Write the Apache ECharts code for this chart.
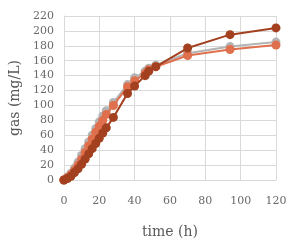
<!DOCTYPE html>
<html>
<head>
<meta charset="utf-8">
<script src="https://cdn.jsdelivr.net/npm/echarts@6/dist/echarts.min.js"></script>
<style>html,body{margin:0;padding:0;background:#fff;}#c{width:299px;height:244px;}</style>
</head>
<body>
<div id="c"></div>
<script>
var times = [0, 2, 4, 6, 8, 10, 12, 14, 16, 18, 20, 22, 24, 28, 36, 40, 46, 48, 52, 70, 94, 120];
var grayVals = [0, 4, 9, 16, 24, 33, 42, 51, 60, 69, 78, 86, 93, 104, 128, 137, 146, 150, 154, 170, 179, 185];
var orangeVals = [0, 3, 7, 13, 20, 28, 37, 46, 55, 64, 72, 80, 88, 100, 125, 133, 143, 148, 152, 167, 175, 181];
var darkVals = [0, 2, 5, 10, 15, 21, 28, 35, 42, 49, 56, 63, 70, 84, 116, 126, 140, 146, 152, 177, 195, 204];
var xTicks = [0, 20, 40, 60, 80, 100, 120];
var yTicks = [0, 20, 40, 60, 80, 100, 120, 140, 160, 180, 200, 220];

function pairs(v){ return times.map(function(t,i){return [t, v[i]];}); }
var font = '"DejaVu Serif", serif';
function mk(name, vals, color, z){
  return {name:name, type:'line', data:pairs(vals), symbol:'circle', symbolSize:9,
    lineStyle:{color:color, width:2}, itemStyle:{color:color}, z:z, animation:false};
}
var chart = echarts.init(document.getElementById('c'));
chart.setOption({
  animation:false,
  grid:{left:62, right:23, top:16, bottom:64},
  xAxis:{type:'value', min:0, max:120, interval:20,
    name:'time (h)', nameLocation:'middle', nameGap:45,
    nameTextStyle:{fontFamily:font, fontSize:14, color:'#595959'},
    axisLabel:{fontFamily:font, fontSize:11, color:'#6a6a6a', margin:16},
    axisLine:{show:true, lineStyle:{color:'#d9d9d9'}}, axisTick:{show:false},
    splitLine:{show:true, lineStyle:{color:'#d9d9d9'}}},
  yAxis:{type:'value', min:0, max:220, interval:20,
    name:'gas (mg/L)', nameLocation:'middle', nameGap:37,
    nameTextStyle:{fontFamily:font, fontSize:14, color:'#595959'},
    axisLabel:{fontFamily:font, fontSize:11, color:'#6a6a6a', margin:10},
    axisLine:{show:true, lineStyle:{color:'#d9d9d9'}}, axisTick:{show:false},
    splitLine:{show:true, lineStyle:{color:'#d9d9d9'}}},
  series:[
    mk('gray', grayVals, '#b4b4b4', 1),
    mk('orange', orangeVals, '#e0704d', 2),
    mk('dark', darkVals, '#a2401f', 3)
  ]
});
</script>
</body>
</html>
